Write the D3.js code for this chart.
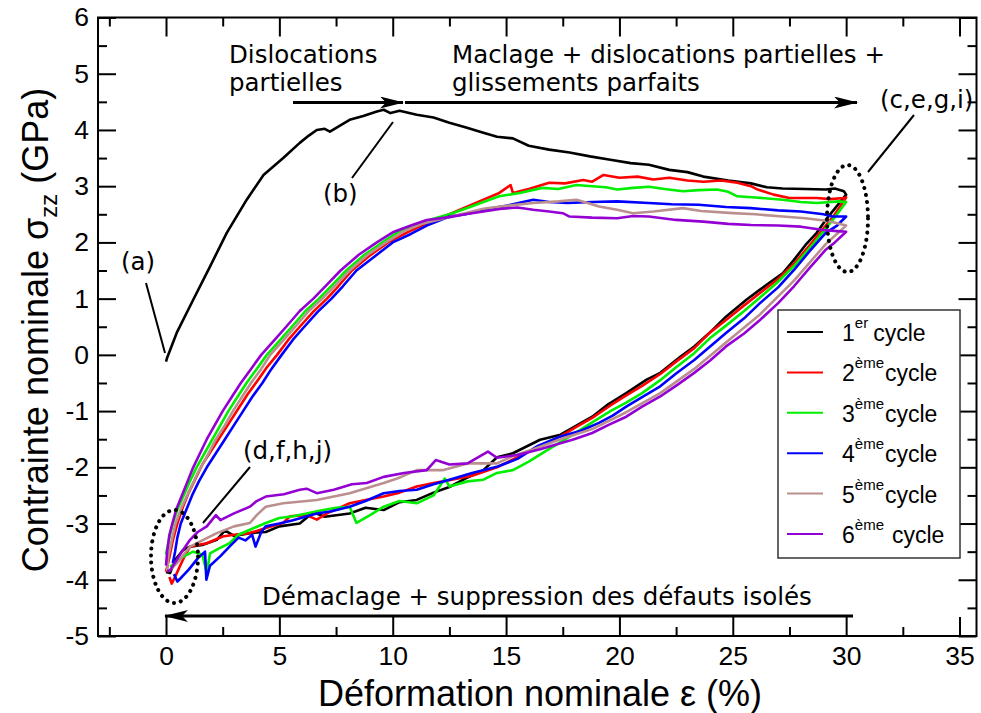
<!DOCTYPE html>
<html><head><meta charset="utf-8">
<script src="https://cdn.jsdelivr.net/npm/d3@7/dist/d3.min.js"></script>
<style>
body{margin:0;background:#fff;}
svg{display:block;}
.tick text{font-family:"Liberation Sans",Arial,sans-serif;font-size:26.5px;fill:#000;}
</style></head><body>
<svg id="chart" width="981" height="713"></svg>
<script>
// ---------- data (strain %, stress GPa) ----------
const seriesNames = ["1", "2", "3", "4", "5", "6"];
const seriesSup = ["er", "ème", "ème", "ème", "ème", "ème"];
const seriesColors = ["#000000", "#ff0000", "#00ee00", "#0000ff", "#bc8f8f", "#9400d3"];

const cycle1 = [[0,-0.12],[0.05,-0.05],[0.47,0.39],[1.2,0.98],[1.94,1.57],[2.68,2.17],[3.56,2.76],[4.3,3.2],[5.17,3.5],[5.9,3.77],[6.3,3.9],[6.65,4.0],[7.0,4.02],[7.23,3.97],[7.6,4.06],[8.1,4.18],[8.7,4.25],[9.3,4.33],[9.6,4.36],[9.9,4.3],[10.3,4.34],[11.06,4.27],[11.8,4.22],[12.5,4.13],[13.2,4.05],[14.0,3.95],[14.6,3.88],[15.3,3.85],[16.0,3.72],[16.9,3.65],[17.8,3.6],[18.7,3.53],[19.6,3.47],[20.5,3.41],[21.3,3.38],[22.2,3.29],[23.0,3.25],[23.7,3.17],[24.8,3.1],[25.8,3.05],[26.5,2.98],[27.2,2.96],[28.2,2.95],[29.1,2.94],[29.5,2.96],[29.9,2.91],[30.0,2.85],
  [29.5,2.6],[29.1,2.4],[28.7,2.17],[28.2,1.95],[27.7,1.69],[27.2,1.45],[26.2,1.16],[25.6,0.98],[24.7,0.68],[24.1,0.44],[23.3,0.15],[22.7,-0.03],[21.8,-0.32],[21.2,-0.44],[20.3,-0.68],[19.5,-0.88],[18.8,-1.1],[17.4,-1.42],[16.5,-1.51],[15.3,-1.75],[14.6,-1.82],[14.0,-2.05],[13.2,-2.2],[12.5,-2.35],[11.8,-2.45],[11.06,-2.58],[10.3,-2.62],[9.6,-2.76],[8.8,-2.72],[8.1,-2.82],[7.0,-2.88],[6.5,-2.8],[5.9,-3.0],[5.0,-3.05],[4.4,-3.15],[3.7,-3.17],[3.0,-3.22],[2.6,-3.12],[2.24,-3.29],[1.6,-3.38],[1.06,-3.41],[0.75,-3.47],[0.4,-3.65],[0.18,-3.88],[0.0,-3.86]];

const cycle2 = [[0.0,-3.86],[0.15,-3.6],[0.3,-3.3],[0.5,-3.0],[0.75,-2.7],[1.0,-2.45],[1.3,-2.2],[1.6,-1.95],[2.0,-1.7],[2.4,-1.45],[2.8,-1.2],[3.2,-0.95],[3.6,-0.7],[4.05,-0.45],[4.45,-0.22],[4.9,0.0],[5.4,0.27],[5.9,0.5],[6.5,0.77],[7.1,1.0],[7.6,1.22],[8.2,1.5],[9.0,1.77],[9.8,2.0],[10.6,2.17],[11.4,2.32],[12.5,2.5],[13.2,2.62],[14.0,2.76],[14.7,2.88],[15.2,3.02],[15.3,2.88],[16.0,2.95],[16.9,3.06],[17.6,3.05],[18.4,3.11],[18.8,3.08],[19.3,3.2],[20.0,3.15],[20.8,3.17],[21.5,3.12],[22.2,3.15],[23.0,3.1],[23.7,3.08],[24.5,3.1],[25.2,3.06],[25.8,3.0],[26.1,2.94],[26.8,2.85],[27.5,2.79],[28.7,2.79],[29.3,2.77],[29.9,2.79],[30.0,2.8],
  [29.5,2.5],[29.1,2.3],[28.5,2.0],[27.7,1.62],[27.0,1.35],[26.2,1.1],[25.5,0.88],[24.7,0.62],[24.0,0.4],[23.3,0.12],[22.5,-0.12],[21.8,-0.34],[21.0,-0.55],[20.3,-0.72],[19.6,-0.9],[18.8,-1.12],[18.1,-1.28],[17.4,-1.45],[16.5,-1.62],[15.5,-1.82],[14.6,-2.0],[13.5,-2.15],[12.6,-2.22],[11.8,-2.28],[11.06,-2.34],[10.3,-2.45],[9.6,-2.52],[8.8,-2.58],[8.1,-2.64],[7.1,-2.82],[6.65,-2.93],[6.2,-2.85],[5.47,-2.87],[5.17,-2.99],[4.4,-3.08],[3.7,-3.17],[3.0,-3.2],[2.5,-3.23],[1.8,-3.35],[1.06,-3.41],[0.8,-3.6],[0.6,-3.77],[0.4,-3.95],[0.25,-4.07],[0.15,-3.95]];

const cycle3 = [[0.0,-3.55],[0.15,-3.25],[0.3,-3.0],[0.5,-2.75],[0.78,-2.5],[1.05,-2.25],[1.35,-2.0],[1.7,-1.75],[2.05,-1.5],[2.4,-1.25],[2.75,-1.0],[3.15,-0.75],[3.55,-0.5],[4.0,-0.25],[4.45,0.0],[5.0,0.25],[5.55,0.5],[6.15,0.78],[6.75,1.0],[7.35,1.25],[7.95,1.5],[8.75,1.78],[9.55,2.0],[10.3,2.2],[11.0,2.32],[11.8,2.42],[12.5,2.5],[13.2,2.6],[14.0,2.72],[14.7,2.82],[15.6,2.88],[16.6,2.97],[17.3,2.95],[18.1,3.02],[18.8,3.0],[19.4,2.98],[19.9,2.94],[20.6,2.97],[21.3,2.99],[22.0,2.95],[22.8,2.91],[23.5,2.93],[24.3,2.94],[24.8,2.9],[25.2,2.82],[26.0,2.8],[27.2,2.76],[28.0,2.72],[28.7,2.7],[29.7,2.73],[30.0,2.72],
  [29.5,2.45],[29.1,2.25],[28.5,1.95],[27.7,1.58],[27.0,1.3],[26.2,1.02],[25.5,0.78],[24.7,0.52],[24.0,0.3],[23.3,0.03],[22.5,-0.22],[21.8,-0.45],[21.0,-0.68],[20.3,-0.85],[19.6,-1.0],[18.8,-1.2],[18.1,-1.38],[17.4,-1.55],[16.8,-1.7],[16.0,-1.9],[15.3,-2.05],[14.6,-2.1],[14.0,-2.22],[13.3,-2.25],[12.5,-2.34],[12.3,-2.2],[11.8,-2.5],[11.06,-2.64],[10.3,-2.6],[9.6,-2.7],[9.0,-2.85],[8.4,-2.99],[8.1,-2.7],[7.5,-2.72],[6.94,-2.76],[6.2,-2.82],[5.6,-2.87],[5.0,-2.9],[4.4,-2.99],[3.7,-3.11],[3.2,-3.2],[2.8,-3.35],[2.3,-3.45],[1.94,-3.53],[1.8,-3.88],[1.6,-3.55],[1.2,-3.5],[0.75,-3.59],[0.4,-3.7],[0.18,-3.77]];

const cycle4 = [[0.3,-3.7],[0.4,-3.5],[0.5,-3.25],[0.65,-3.0],[0.9,-2.75],[1.15,-2.5],[1.45,-2.25],[1.8,-2.0],[2.2,-1.75],[2.6,-1.5],[3.0,-1.25],[3.4,-1.0],[3.8,-0.75],[4.25,-0.5],[4.65,-0.25],[5.1,0.0],[5.6,0.27],[6.1,0.5],[6.7,0.77],[7.3,1.0],[7.8,1.22],[8.4,1.5],[9.2,1.75],[10.0,2.0],[10.8,2.15],[11.5,2.3],[12.5,2.46],[13.2,2.5],[14.0,2.58],[15.0,2.65],[16.2,2.76],[16.9,2.72],[17.7,2.7],[18.8,2.72],[19.9,2.73],[21.3,2.7],[22.3,2.68],[23.5,2.67],[24.7,2.63],[25.8,2.61],[27.0,2.57],[28.0,2.55],[29.0,2.5],[29.4,2.46],[30.0,2.46],
  [29.6,2.3],[29.1,2.17],[28.4,1.85],[27.7,1.51],[27.0,1.2],[26.2,0.92],[25.5,0.65],[24.7,0.39],[24.0,0.15],[23.3,-0.09],[22.5,-0.33],[21.8,-0.56],[21.0,-0.75],[20.3,-0.92],[19.7,-1.08],[19.1,-1.21],[18.3,-1.35],[17.4,-1.45],[16.4,-1.62],[15.5,-1.85],[14.6,-1.99],[13.5,-2.1],[12.5,-2.22],[11.8,-2.3],[11.06,-2.4],[10.3,-2.42],[9.6,-2.46],[8.8,-2.6],[8.1,-2.7],[7.3,-2.78],[6.65,-2.82],[5.6,-2.94],[5.0,-3.0],[4.4,-3.05],[4.2,-3.15],[3.95,-3.41],[3.8,-3.2],[3.5,-3.3],[3.2,-3.25],[2.8,-3.41],[2.4,-3.58],[1.94,-3.75],[1.78,-4.0],[1.72,-3.5],[1.4,-3.62],[1.0,-3.82],[0.7,-3.95],[0.5,-4.03],[0.35,-3.9]];

const cycle5 = [[0.05,-3.85],[0.1,-3.6],[0.25,-3.3],[0.42,-3.0],[0.7,-2.7],[1.05,-2.4],[1.4,-2.1],[1.75,-1.85],[2.2,-1.5],[2.6,-1.25],[2.95,-1.0],[3.35,-0.75],[3.75,-0.5],[4.2,-0.25],[4.6,0.0],[5.15,0.25],[5.7,0.5],[6.3,0.78],[6.9,1.0],[7.5,1.25],[8.1,1.5],[8.9,1.78],[9.7,2.0],[10.5,2.2],[11.3,2.33],[12.2,2.42],[13.0,2.5],[14.0,2.6],[15.0,2.65],[16.2,2.7],[17.3,2.73],[18.1,2.76],[18.6,2.7],[19.1,2.64],[19.9,2.58],[20.6,2.52],[21.5,2.55],[22.8,2.61],[23.6,2.56],[25.0,2.52],[26.0,2.5],[27.2,2.46],[28.2,2.43],[29.2,2.38],[30.0,2.3],
  [29.1,1.97],[27.7,1.32],[26.2,0.72],[24.7,0.22],[23.3,-0.25],[21.8,-0.68],[20.3,-1.02],[18.8,-1.32],[17.4,-1.5],[16.2,-1.68],[15.3,-1.8],[14.6,-1.93],[13.3,-1.93],[12.2,-2.05],[11.06,-2.05],[10.2,-2.2],[9.6,-2.28],[8.1,-2.46],[6.65,-2.58],[5.17,-2.64],[4.4,-2.7],[4.0,-2.85],[3.7,-2.99],[3.0,-3.05],[2.24,-3.17],[1.6,-3.3],[1.06,-3.41],[0.47,-3.71],[0.18,-3.83],[0.1,-3.85]];

const cycle6 = [[0.0,-3.75],[0.05,-3.5],[0.15,-3.2],[0.28,-3.0],[0.45,-2.75],[0.7,-2.5],[0.95,-2.25],[1.2,-2.0],[1.5,-1.75],[1.8,-1.5],[2.15,-1.25],[2.5,-1.0],[2.9,-0.75],[3.3,-0.5],[3.75,-0.25],[4.2,0.0],[4.75,0.25],[5.3,0.5],[5.9,0.78],[6.5,1.0],[7.1,1.25],[7.7,1.5],[8.5,1.78],[9.3,2.0],[10.0,2.18],[10.8,2.3],[11.5,2.4],[12.5,2.45],[13.2,2.5],[14.0,2.55],[14.8,2.6],[15.5,2.62],[16.2,2.58],[16.9,2.55],[17.5,2.52],[17.8,2.46],[18.8,2.44],[19.9,2.43],[20.6,2.47],[21.3,2.46],[22.5,2.4],[23.7,2.37],[24.8,2.33],[25.8,2.31],[27.0,2.3],[28.0,2.28],[29.0,2.22],[29.6,2.2],[30.0,2.19],
  [29.5,2.0],[29.1,1.87],[28.4,1.55],[27.7,1.22],[27.0,0.92],[26.2,0.62],[25.5,0.38],[24.7,0.15],[24.0,-0.1],[23.3,-0.32],[22.6,-0.52],[21.8,-0.74],[21.0,-0.92],[20.3,-1.1],[19.5,-1.25],[18.8,-1.39],[18.0,-1.5],[17.4,-1.57],[16.5,-1.68],[15.5,-1.78],[14.6,-1.83],[14.2,-1.72],[13.3,-1.93],[12.5,-1.95],[11.9,-1.87],[11.5,-2.05],[10.5,-2.1],[9.6,-2.17],[8.85,-2.28],[8.2,-2.3],[7.4,-2.4],[6.65,-2.46],[6.2,-2.38],[5.9,-2.4],[5.2,-2.48],[4.4,-2.52],[4.0,-2.6],[3.7,-2.7],[3.0,-2.82],[2.4,-2.94],[2.2,-2.85],[1.8,-3.05],[1.4,-3.15],[1.06,-3.29],[0.7,-3.5],[0.47,-3.65],[0.18,-3.83],[0.05,-3.85]];

const cycles = [cycle1, cycle2, cycle3, cycle4, cycle5, cycle6];

const xMajor = [0, 5, 10, 15, 20, 25, 30, 35];
const xMinor = [-2.5, 2.5, 7.5, 12.5, 17.5, 22.5, 27.5, 32.5];
const yMajor = [-5, -4, -3, -2, -1, 0, 1, 2, 3, 4, 5, 6];
const yMinor = [-4.5, -3.5, -2.5, -1.5, -0.5, 0.5, 1.5, 2.5, 3.5, 4.5, 5.5];

// ---------- layout ----------
const svg = d3.select("#chart");
const L = 98, R = 976.5, T = 17.5, B = 636;
const x = d3.scaleLinear().domain([-3, 35.75]).range([L, R]);
const y = d3.scaleLinear().domain([-5, 6]).range([B, T]);

const defs = svg.append("defs");
defs.append("clipPath").attr("id", "clip").append("rect")
  .attr("x", L).attr("y", T).attr("width", R - L).attr("height", B - T);
defs.append("marker").attr("id", "arrow").attr("viewBox", "0 0 24 12")
  .attr("refX", 23).attr("refY", 6).attr("markerWidth", 24).attr("markerHeight", 12)
  .attr("markerUnits", "userSpaceOnUse").attr("orient", "auto")
  .append("path").attr("d", "M0,0 L24,6 L0,12 L6,6 Z").attr("fill", "#000");

// data lines
const line = d3.line().x(d => x(d[0])).y(d => y(d[1]));
const gData = svg.append("g").attr("clip-path", "url(#clip)");
cycles.forEach((c, i) => {
  gData.append("path").datum(c).attr("d", line)
    .attr("fill", "none").attr("stroke", seriesColors[i])
    .attr("stroke-width", 2.6).attr("stroke-linejoin", "round");
});

// axes
function styleAxis(g) {
  g.select(".domain").remove();
  g.selectAll(".tick line").attr("stroke", "#000").attr("stroke-width", 2);
}
const fmt = d => String(d);
svg.append("g").attr("transform", `translate(0,${B})`)
  .call(d3.axisBottom(x).tickValues(xMajor).tickSize(-19).tickPadding(10).tickFormat(fmt))
  .call(styleAxis);
svg.append("g").attr("transform", `translate(0,${B})`)
  .call(d3.axisBottom(x).tickValues(xMinor).tickSize(-9).tickFormat(""))
  .call(styleAxis);
svg.append("g").attr("transform", `translate(0,${T})`)
  .call(d3.axisTop(x).tickValues(xMajor).tickSize(-19).tickFormat(""))
  .call(styleAxis);
svg.append("g").attr("transform", `translate(0,${T})`)
  .call(d3.axisTop(x).tickValues(xMinor).tickSize(-9).tickFormat(""))
  .call(styleAxis);
svg.append("g").attr("transform", `translate(${L},0)`)
  .call(d3.axisLeft(y).tickValues(yMajor).tickSize(-18).tickPadding(9).tickFormat(fmt))
  .call(styleAxis);
svg.append("g").attr("transform", `translate(${L},0)`)
  .call(d3.axisLeft(y).tickValues(yMinor).tickSize(-9).tickFormat(""))
  .call(styleAxis);
svg.append("g").attr("transform", `translate(${R},0)`)
  .call(d3.axisRight(y).tickValues(yMajor).tickSize(-18).tickFormat(""))
  .call(styleAxis);
svg.append("g").attr("transform", `translate(${R},0)`)
  .call(d3.axisRight(y).tickValues(yMinor).tickSize(-9).tickFormat(""))
  .call(styleAxis);

svg.append("rect").attr("x", L).attr("y", T).attr("width", R - L).attr("height", B - T)
  .attr("fill", "none").attr("stroke", "#000").attr("stroke-width", 2);

// axis titles
const sans = "'Liberation Sans', Arial, sans-serif";
svg.append("text").attr("x", 540).attr("y", 706).attr("text-anchor", "middle")
  .attr("font-family", sans).attr("font-size", 36).text("Déformation nominale ε (%)");
const yt = svg.append("text").attr("transform", "translate(48,330) rotate(-90)")
  .attr("text-anchor", "middle").attr("font-family", sans).attr("font-size", 36);
yt.append("tspan").text("Contrainte nominale σ");
yt.append("tspan").attr("font-size", 24).attr("dy", 9).text("zz");
yt.append("tspan").attr("dy", -9).text(" (GPa)");

// annotations
const dv = "'DejaVu Sans', sans-serif";
const ann = svg.append("g").attr("font-family", dv).attr("font-size", 24.5).attr("fill", "#000");
ann.append("text").attr("x", 229).attr("y", 63).text("Dislocations");
ann.append("text").attr("x", 229).attr("y", 91).text("partielles");
ann.append("text").attr("x", 452).attr("y", 63).text("Maclage + dislocations partielles +");
ann.append("text").attr("x", 452).attr("y", 91).text("glissements parfaits");
ann.append("text").attr("x", 880).attr("y", 108).text("(c,e,g,i)");
ann.append("text").attr("x", 323).attr("y", 202).text("(b)");
ann.append("text").attr("x", 121).attr("y", 270).text("(a)");
ann.append("text").attr("x", 243).attr("y", 459).text("(d,f,h,j)");
ann.append("text").attr("x", 262).attr("y", 605).text("Démaclage + suppression des défauts isolés");

const seg = (x1, y1, x2, y2, w, arrow) => {
  const l = svg.append("line").attr("x1", x1).attr("y1", y1).attr("x2", x2).attr("y2", y2)
    .attr("stroke", "#000").attr("stroke-width", w);
  if (arrow) l.attr("marker-end", "url(#arrow)");
};
seg(293, 102.5, 403, 102.5, 3, true);
seg(405, 102.5, 857, 102.5, 3, true);
seg(853, 616, 165, 616, 3, true);
seg(914, 115, 868, 172, 2, false);
seg(352, 178, 393, 122, 2, false);
seg(146, 283, 165, 353, 2, false);
seg(250, 467, 203, 523, 2, false);

svg.append("ellipse").attr("cx", 174.5).attr("cy", 556.5).attr("rx", 23.5).attr("ry", 46.5)
  .attr("fill", "none").attr("stroke", "#000").attr("stroke-width", 4)
  .attr("stroke-dasharray", "0.1,7").attr("stroke-linecap", "round");
svg.append("ellipse").attr("cx", 847.5).attr("cy", 218.5).attr("rx", 20.5).attr("ry", 53.5)
  .attr("fill", "none").attr("stroke", "#000").attr("stroke-width", 4)
  .attr("stroke-dasharray", "0.1,7").attr("stroke-linecap", "round");

// legend
const lg = svg.append("g");
lg.append("rect").attr("x", 778).attr("y", 310).attr("width", 182).attr("height", 248)
  .attr("fill", "#fff").attr("stroke", "#333").attr("stroke-width", 1.5);
const rowY = d3.scaleLinear().domain([0, 5]).range([332, 534]);
seriesNames.forEach((n, i) => {
  const yy = rowY(i);
  lg.append("line").attr("x1", 787).attr("x2", 823).attr("y1", yy).attr("y2", yy)
    .attr("stroke", seriesColors[i]).attr("stroke-width", 2);
  const t = lg.append("text").attr("x", 842).attr("y", yy + 9).attr("font-family", sans).attr("font-size", 23);
  t.append("tspan").text(n);
  t.append("tspan").attr("font-size", 15).attr("dy", -13).text(seriesSup[i]);
  t.append("tspan").attr("dy", 13).attr("dx", i === 0 ? 5 : (i === 5 ? 8 : 1)).text("cycle");
});
</script>
</body></html>
